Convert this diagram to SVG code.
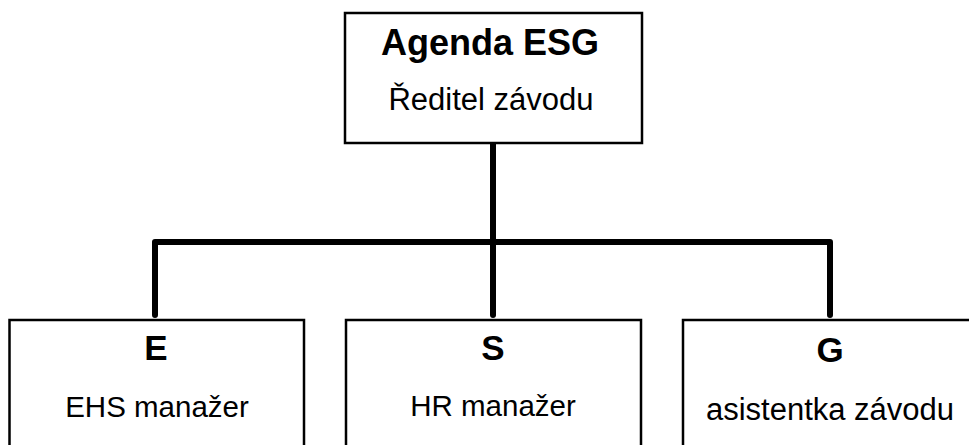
<svg xmlns="http://www.w3.org/2000/svg" width="969" height="445" viewBox="0 0 969 445">
<style>
.box{fill:#fff;stroke:#000;stroke-width:2.5}
.conn{fill:none;stroke:#000;stroke-width:6;stroke-linecap:round;stroke-linejoin:round}
text{font-family:"Liberation Sans",Arial,sans-serif;fill:#000;text-anchor:middle}
.b{font-weight:bold}
</style>
<rect width="969" height="445" fill="#fff"/>
<g id="connectors">
<path class="conn" d="M493,143 V315"/>
<path class="conn" d="M155,315 V242 H830 V315"/>
</g>
<g id="node-top">
<rect class="box" x="345" y="13" width="297" height="130"/>
<text class="b" x="490" y="55" font-size="36">Agenda ESG</text>
<text x="491" y="110" font-size="31">Ředitel závodu</text>
</g>
<g id="node-E">
<rect class="box" x="9.5" y="320" width="294.5" height="140"/>
<text class="b" x="156" y="360" font-size="35">E</text>
<text x="157" y="417" font-size="29.5">EHS manažer</text>
</g>
<g id="node-S">
<rect class="box" x="346" y="320" width="295" height="140"/>
<text class="b" x="493" y="360" font-size="35">S</text>
<text x="493" y="416" font-size="29.5">HR manažer</text>
</g>
<g id="node-G">
<rect class="box" x="683" y="320" width="300" height="140"/>
<text class="b" x="830" y="362" font-size="35">G</text>
<text x="830" y="420" font-size="31">asistentka závodu</text>
</g>
</svg>
